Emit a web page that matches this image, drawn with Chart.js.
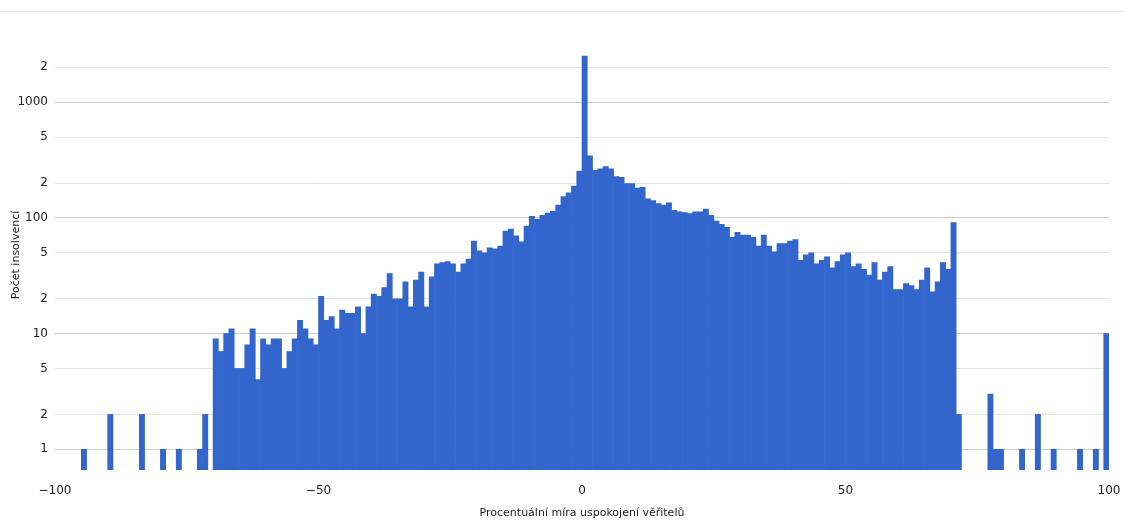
<!DOCTYPE html>
<html>
<head>
<meta charset="utf-8">
<script src="https://cdn.jsdelivr.net/npm/chart.js@4"></script>
<style>
  body { margin: 0; background: #fff; }
  #wrap { position: relative; width: 1124px; height: 523px; }
  #topline { position: absolute; left: 0; top: 11px; width: 1124px; height: 1px; background: #e3e3e3; }
  canvas { position: absolute; left: 0; top: 0; }
</style>
</head>
<body>
<div id="wrap">
  <div id="topline"></div>
  <canvas id="myChart" width="1124" height="523"></canvas>
</div>
<script>
// histogram bins are 1 % wide, first bin starts at -100
const firstBin = -100;
const counts = [
    0, 0, 0, 0, 0, 1, 0, 0, 0, 0,            // -100 .. -91
    2, 0, 0, 0, 0, 0, 2, 0, 0, 0,            // -90 .. -81
    1, 0, 0, 1, 0, 0, 0, 1, 2, 0,            // -80 .. -71
    9, 7, 10, 11, 5, 5, 8, 11, 4, 9,         // -70 .. -61
    8, 9, 9, 5, 7, 9, 13, 11, 9, 8,          // -60 .. -51
    21, 13, 14, 11, 16, 15, 15, 17, 10, 17,  // -50 .. -41
    22, 21, 25, 33, 20, 20, 28, 17, 29, 34,  // -40 .. -31
    17, 31, 40, 41, 42, 40, 34, 40, 44, 63,  // -30 .. -21
    52, 50, 55, 54, 57, 77, 80, 70, 62, 85,  // -20 .. -11
    103, 97, 105, 110, 114, 129, 153, 165, 188, 254,  // -10 .. -1
    2500, 344, 258, 266, 277, 266, 227, 224, 198, 198, // 0 .. 9
    181, 184, 146, 141, 133, 129, 135, 116, 113, 111,  // 10 .. 19
    109, 113, 113, 119, 105, 94, 88, 83, 68, 75,  // 20 .. 29
    71, 71, 68, 57, 71, 57, 51, 60, 60, 63,   // 30 .. 39
    65, 43, 48, 50, 40, 43, 46, 37, 42, 48,   // 40 .. 49
    50, 38, 40, 36, 32, 41, 29, 34, 38, 24,   // 50 .. 59
    24, 27, 26, 24, 29, 37, 23, 28, 41, 36,   // 60 .. 69
    91, 2, 0, 0, 0, 0, 0, 3, 1, 1,            // 70 .. 79
    0, 0, 0, 1, 0, 0, 2, 0, 0, 1,             // 80 .. 89
    0, 0, 0, 0, 1, 0, 0, 1, 0, 10             // 90 .. 99
];
const yTicks = [1, 2, 5, 10, 20, 50, 100, 200, 500, 1000, 2000];
const xTicks = [-100, -50, 0, 50, 100];
const xTitle = 'Procentuální míra uspokojení věřitelů';
const yTitle = 'Počet insolvencí';

const isDecade = (v) => Math.abs(Math.log10(v) - Math.round(Math.log10(v))) < 1e-9;

Chart.defaults.font.family = '"DejaVu Sans", Verdana, sans-serif';
Chart.defaults.color = '#222';

const barData = counts.map((c, i) => ({ x: firstBin + i + 0.5, y: c > 0 ? c : null }));

var ctx = document.getElementById('myChart').getContext('2d');
var myChart = new Chart(ctx, {
    type: 'bar',
    data: {
        datasets: [{
            data: barData,
            backgroundColor: '#3366cc',
            borderWidth: 0,
            barPercentage: 1,
            categoryPercentage: 1
        }]
    },
    options: {
        responsive: false,
        animation: false,
        devicePixelRatio: 1,
        layout: { padding: { top: 40, right: 15, left: 0, bottom: 0 } },
        plugins: { legend: { display: false }, tooltip: { enabled: false } },
        scales: {
            x: {
                type: 'linear',
                min: -100,
                max: 100,
                offset: false,
                grid: { display: false, offset: false },
                border: { display: false },
                afterBuildTicks: (axis) => { axis.ticks = xTicks.map((v) => ({ value: v })); },
                afterFit: (axis) => { axis.height = 53; axis.paddingLeft = 0; axis.paddingRight = 0; },
                ticks: {
                    autoSkip: false,
                    maxRotation: 0,
                    padding: 6,
                    font: { size: 12 },
                    callback: (v) => String(v).replace('-', '\u2212')
                },
                title: {
                    display: true,
                    text: xTitle,
                    font: { size: 11 },
                    padding: { top: 0, bottom: 3 }
                }
            },
            y: {
                type: 'logarithmic',
                min: 0.662,
                max: 3448,
                beginAtZero: false,
                bounds: 'data',
                afterBuildTicks: (axis) => { axis.ticks = yTicks.map((v) => ({ value: v })); },
                afterFit: (axis) => { axis.width = 55; axis.paddingTop = 0; axis.paddingBottom = 0; },
                grid: {
                    drawTicks: false,
                    color: (c) => (c.tick && isDecade(c.tick.value)) ? '#cccccc' : '#e4e4e4',
                    lineWidth: 1
                },
                border: { display: false },
                ticks: {
                    autoSkip: false,
                    padding: 7,
                    font: { size: 12 },
                    callback: (v) => isDecade(v) ? String(v) : String(v).charAt(0)
                },
                title: {
                    display: true,
                    text: yTitle,
                    font: { size: 11 },
                    padding: { top: 10, bottom: 0 }
                }
            }
        }
    }
});
</script>
</body>
</html>
